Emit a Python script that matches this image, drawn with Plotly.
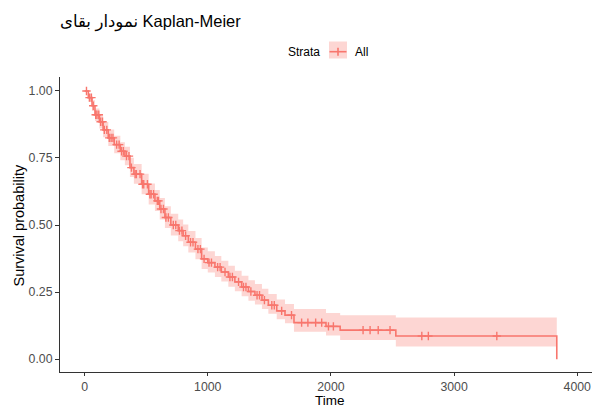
import numpy as np
import plotly.graph_objects as go

# Kaplan-Meier estimate
times = [0, 30, 60, 84, 120, 150, 192, 240, 290, 327, 368, 400, 463, 520, 571, 610,
         652, 700, 760, 800, 842, 900, 950, 1000, 1058, 1110, 1167, 1220, 1275, 1330,
         1383, 1440, 1492, 1560, 1627, 1700, 1960, 2075, 2527, 3834]
surv = [1.0, 0.975, 0.945, 0.911, 0.885, 0.855, 0.825, 0.800, 0.775, 0.757, 0.714,
        0.690, 0.652, 0.615, 0.590, 0.560, 0.528, 0.500, 0.479, 0.460, 0.436, 0.410,
        0.374, 0.360, 0.343, 0.325, 0.306, 0.288, 0.269, 0.252, 0.238, 0.220, 0.201,
        0.180, 0.164, 0.136, 0.122, 0.108, 0.086, 0.0]
upper = [1.0, 0.99, 0.965, 0.935, 0.912, 0.884, 0.856, 0.833, 0.809, 0.792, 0.751,
         0.728, 0.691, 0.655, 0.631, 0.601, 0.570, 0.542, 0.521, 0.502, 0.478, 0.452,
         0.416, 0.402, 0.385, 0.367, 0.348, 0.330, 0.311, 0.294, 0.280, 0.262, 0.243,
         0.222, 0.206, 0.187, 0.172, 0.164, 0.155, 0.155]
lower = [1.0, 0.96, 0.925, 0.888, 0.860, 0.827, 0.795, 0.768, 0.742, 0.723, 0.679,
         0.654, 0.615, 0.577, 0.552, 0.521, 0.489, 0.461, 0.440, 0.421, 0.398, 0.372,
         0.336, 0.323, 0.306, 0.289, 0.270, 0.253, 0.234, 0.218, 0.204, 0.187, 0.169,
         0.149, 0.134, 0.102, 0.088, 0.071, 0.047, 0.047]
censor_times = [15, 40, 55, 70, 90, 100, 115, 130, 145, 160, 180, 200, 215, 230, 260,
                280, 300, 315, 340, 360, 380, 410, 420, 450, 470, 480, 510, 530, 540,
                560, 590, 600, 620, 640, 660, 680, 720, 740, 770, 790, 820, 860, 880,
                920, 940, 970, 1010, 1030, 1080, 1100, 1140, 1180, 1200, 1250, 1290,
                1310, 1350, 1400, 1420, 1460, 1520, 1540, 1600, 1680, 1762, 1813, 1876,
                1925, 1980, 2020, 2261, 2318, 2384, 2480, 2738, 2791, 3347]
x_ticks = [0, 1000, 2000, 3000, 4000]
y_ticks = [0.0, 0.25, 0.5, 0.75, 1.0]
y_ticklabels = ["0.00", "0.25", "0.50", "0.75", "1.00"]

COL = "#F8766D"
BAND = "rgba(248,118,109,0.3)"

t_arr = np.array(times)
s_arr = np.array(surv)
idx = np.searchsorted(t_arr, np.array(censor_times), side="right") - 1
censor_s = s_arr[idx]

fig = go.Figure()
fig.add_trace(go.Scatter(x=times, y=upper, mode="lines", line=dict(width=0, shape="hv"),
                         showlegend=False, hoverinfo="skip"))
fig.add_trace(go.Scatter(x=times, y=lower, mode="lines", line=dict(width=0, shape="hv"),
                         fill="tonexty", fillcolor=BAND, showlegend=False, hoverinfo="skip"))
fig.add_trace(go.Scatter(x=times, y=surv, mode="lines", line=dict(color=COL, width=1.6, shape="hv"),
                         showlegend=False))
fig.add_trace(go.Scatter(x=censor_times, y=censor_s, mode="markers",
                         marker=dict(symbol="cross-thin", size=6, line=dict(color=COL, width=1.4)),
                         showlegend=False))

FONT = "Liberation Sans, Arial, DejaVu Sans, sans-serif"
L, R, T, B = 60, 0, 77, 36
PW, PH = 592 - L - R, 408 - T - B


def px(x):
    return (x - L) / PW


def py(y):
    return (408 - B - y) / PH


fig.update_layout(
    width=592, height=408,
    margin=dict(l=L, r=R, t=T, b=B, autoexpand=False),
    paper_bgcolor="white", plot_bgcolor="white",
    font=dict(family=FONT, color="black"),
    title=dict(text="نمودار بقای Kaplan-Meier", x=60 / 592, xanchor="left",
               y=1 - 21 / 408, yanchor="middle", font=dict(size=16.5, color="black")),
    xaxis=dict(range=[-200, 4120], tickvals=x_ticks, ticks="outside", ticklen=3,
               tickcolor="#333333", showline=True, linecolor="#333333", linewidth=1,
               showgrid=False, zeroline=False, automargin=False,
               tickfont=dict(size=12.3, color="#4d4d4d")),
    yaxis=dict(range=[-0.048, 1.052], tickvals=y_ticks, ticktext=y_ticklabels,
               ticks="outside", ticklen=4, tickcolor="#333333", showline=True,
               linecolor="#333333", linewidth=1, showgrid=False, zeroline=False,
               automargin=False, tickfont=dict(size=12.3, color="#4d4d4d")),
    showlegend=False,
)

# axis titles
fig.add_annotation(text="Time", xref="paper", yref="paper", x=px(330), y=py(400),
                   xanchor="center", yanchor="middle", showarrow=False, borderpad=0,
                   font=dict(size=13.5, color="black"))
fig.add_annotation(text="Survival probability", xref="paper", yref="paper", x=px(19),
                   y=py(225.5), xanchor="center", yanchor="middle", showarrow=False,
                   textangle=-90, font=dict(size=14.5, color="black"))

# manual legend (ggplot style)
fig.add_annotation(text="Strata", xref="paper", yref="paper", x=px(322),
                   y=py(51.7), xanchor="right", yanchor="middle",
                   showarrow=False, font=dict(size=12, color="black"))
fig.add_shape(type="rect", xref="paper", yref="paper",
              x0=px(329), x1=px(347), y0=py(58.5), y1=py(41.5),
              fillcolor=BAND, line=dict(width=0))
fig.add_shape(type="line", xref="paper", yref="paper",
              x0=px(329.5), x1=px(346.5), y0=py(51.7), y1=py(51.7),
              line=dict(color=COL, width=1.6))
fig.add_shape(type="line", xref="paper", yref="paper",
              x0=px(338), x1=px(338), y0=py(55.7), y1=py(47.7),
              line=dict(color=COL, width=1.6))
fig.add_annotation(text="All", xref="paper", yref="paper", x=px(353),
                   y=py(51.7), xanchor="left", yanchor="middle",
                   showarrow=False, font=dict(size=12, color="black"))

fig.write_html("out.html")
